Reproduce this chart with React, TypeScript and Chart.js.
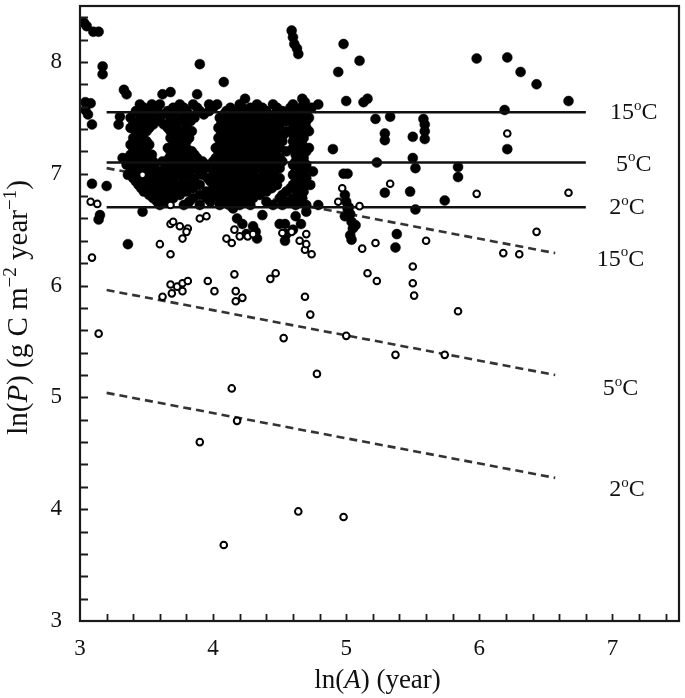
import React, { useEffect, useRef } from 'react';
import { Chart, registerables } from 'chart.js';
Chart.register(...registerables);

const FONT = '"Liberation Serif", "Times New Roman", serif';

// Axis ranges and tick labels
const X_MIN = 3, X_MAX = 7.5, Y_MIN = 3, Y_MAX = 8.5;
const xTickValues = [3, 4, 5, 6, 7];
const yTickValues = [3, 4, 5, 6, 7, 8];
const tempLabels = ['15', '5', '2'];

// Reference lines (ln(A), ln(P))
const solidX = [3.2, 6.8];
const solid15 = [7.55, 7.55];
const solid5 = [7.1, 7.1];
const solid2 = [6.7, 6.7];
const dashedX = [3.2, 6.57];
const dashed15 = [7.05, 6.29];
const dashed5 = [5.96, 5.2];
const dashed2 = [5.04, 4.28];

// Label anchors (data units)
const solidLabelX = [7.16, 7.16, 7.11];
const solidLabelY = [7.56, 7.1, 6.71];
const dashedLabelX = [7.06, 7.06, 7.11];
const dashedLabelY = [6.25, 5.09, 4.19];

// Filled circles – scattered points
const filledSparse: [number, number][] = [
  [3.03, 8.35], [3.05, 8.32], [3.1, 8.27], [3.14, 8.27],
  [3.17, 7.96], [3.17, 7.89], [3.9, 7.98], [4.08, 7.82],
  [3.33, 7.75], [3.35, 7.71], [3.62, 7.71], [3.68, 7.73], [3.88, 7.71],
  [3.04, 7.64], [3.08, 7.63], [3.04, 7.57], [3.06, 7.53], [3.09, 7.44],
  [3.3, 7.51], [3.29, 7.44], [3.41, 7.31], [3.44, 7.22], [3.32, 7.14],
  [3.09, 6.91], [3.2, 6.89], [3.15, 6.63], [3.14, 6.59],
  [3.36, 6.37], [3.47, 6.66],
  [4.59, 8.28], [4.6, 8.22], [4.61, 8.16], [4.63, 8.12], [4.64, 8.07],
  [4.98, 8.16], [5.1, 8.01], [4.94, 7.91],
  [4.24, 7.67], [4.67, 7.67], [4.69, 7.64], [4.79, 7.62],
  [5.0, 7.65], [5.13, 7.64], [5.16, 7.67],
  [5.22, 7.49], [5.33, 7.51], [5.58, 7.49], [5.59, 7.44], [5.59, 7.38], [5.59, 7.31],
  [5.29, 7.36], [5.29, 7.3], [5.5, 7.33], [4.9, 7.22],
  [5.23, 7.1], [5.5, 7.14], [5.52, 7.05], [4.98, 7.0], [5.01, 7.0],
  [5.29, 6.83], [5.48, 6.84], [5.74, 6.76], [5.52, 6.68], [5.84, 7.06], [5.84, 6.97],
  [5.38, 6.46], [5.37, 6.34],
  [4.99, 6.81], [5.0, 6.75], [5.01, 6.69], [5.03, 6.64], [5.04, 6.57], [5.05, 6.51],
  [5.03, 6.45], [5.04, 6.41], [5.07, 6.54], [5.02, 6.7], [4.99, 6.62],
  [5.98, 8.03], [6.21, 8.04], [6.31, 7.91], [6.43, 7.8], [6.67, 7.65], [6.19, 7.57], [6.21, 7.22],
  [4.79, 6.72], [4.7, 6.66], [4.75, 7.02], [4.73, 6.9], [4.54, 6.55], [4.54, 6.4],
  [4.15, 6.69], [4.18, 6.6], [4.22, 6.55], [4.25, 6.46], [4.3, 6.53], [4.32, 6.48],
  [4.37, 6.63], [4.5, 6.55], [4.55, 6.46], [4.33, 6.42], [4.62, 6.62], [4.66, 6.55], [4.6, 6.5],
];

// Filled circles – dense cluster, listed row by row: [ln(P), ln(A) values]
const clusterRows: [number, number[]][] = [
  [7.62, [3.45, 3.54, 3.6, 3.75, 3.85, 3.97, 4.03, 4.2, 4.33, 4.45, 4.6, 4.68]],
  [7.59, [3.48, 3.57, 3.7, 3.78, 3.88, 4.0, 4.13, 4.22, 4.28, 4.37, 4.48, 4.58, 4.66, 4.74]],
  [7.56, [3.42, 3.5, 3.58, 3.66, 3.72, 3.8, 3.9, 3.97, 4.1, 4.16, 4.25, 4.31, 4.4, 4.52, 4.62, 4.7]],
  [7.53, [3.45, 3.52, 3.62, 3.7, 3.82, 3.93, 4.08, 4.14, 4.21, 4.27, 4.34, 4.46, 4.55, 4.63, 4.68]],
  [7.5, [3.38, 3.48, 3.55, 3.68, 3.77, 3.86, 4.05, 4.12, 4.18, 4.24, 4.3, 4.36, 4.43, 4.5, 4.6, 4.65, 4.72]],
  [7.47, [3.44, 3.52, 3.6, 3.68, 3.75, 3.83, 4.08, 4.14, 4.19, 4.25, 4.31, 4.38, 4.46, 4.55, 4.61, 4.7]],
  [7.44, [3.4, 3.47, 3.55, 3.63, 3.72, 3.8, 4.06, 4.11, 4.16, 4.21, 4.27, 4.33, 4.4, 4.5, 4.63, 4.68]],
  [7.41, [3.38, 3.45, 3.52, 3.66, 3.72, 3.8, 4.04, 4.11, 4.18, 4.27, 4.34, 4.42, 4.48, 4.6, 4.65, 4.7]],
  [7.38, [3.42, 3.5, 3.68, 3.76, 3.84, 4.08, 4.14, 4.2, 4.24, 4.3, 4.37, 4.45, 4.55, 4.62, 4.66, 4.72]],
  [7.35, [3.45, 3.7, 3.79, 4.06, 4.12, 4.19, 4.26, 4.35, 4.4, 4.47, 4.53, 4.6, 4.66]],
  [7.32, [3.4, 3.47, 3.68, 3.74, 3.82, 4.04, 4.1, 4.17, 4.22, 4.28, 4.33, 4.42, 4.5, 4.63, 4.68]],
  [7.29, [3.43, 3.5, 3.72, 3.8, 4.07, 4.15, 4.21, 4.27, 4.32, 4.38, 4.44, 4.52, 4.6, 4.65]],
  [7.26, [3.38, 3.45, 3.52, 3.7, 3.78, 4.05, 4.1, 4.14, 4.19, 4.25, 4.3, 4.35, 4.4, 4.47, 4.62, 4.67]],
  [7.23, [3.42, 3.5, 3.66, 3.72, 3.8, 4.02, 4.1, 4.16, 4.24, 4.3, 4.36, 4.42, 4.5, 4.6, 4.65, 4.72]],
  [7.2, [3.4, 3.48, 3.68, 3.74, 3.84, 4.04, 4.08, 4.12, 4.17, 4.22, 4.27, 4.33, 4.38, 4.45, 4.55, 4.63, 4.7]],
  [7.17, [3.38, 3.46, 3.54, 3.7, 3.78, 3.86, 4.05, 4.1, 4.14, 4.19, 4.24, 4.28, 4.34, 4.4, 4.47, 4.62, 4.66]],
  [7.14, [3.36, 3.44, 3.52, 3.67, 3.74, 3.82, 3.88, 4.02, 4.07, 4.12, 4.16, 4.21, 4.25, 4.3, 4.36, 4.43, 4.5, 4.64, 4.68]],
  [7.11, [3.4, 3.47, 3.55, 3.62, 3.7, 3.78, 3.85, 3.92, 4.0, 4.05, 4.1, 4.15, 4.2, 4.26, 4.32, 4.38, 4.45, 4.52, 4.62, 4.67]],
  [7.08, [3.35, 3.42, 3.5, 3.56, 3.66, 3.74, 3.8, 3.88, 3.95, 4.02, 4.08, 4.13, 4.18, 4.22, 4.28, 4.35, 4.4, 4.48, 4.6, 4.65, 4.7]],
  [7.05, [3.4, 3.48, 3.56, 3.64, 3.71, 3.78, 3.86, 3.94, 4.04, 4.1, 4.15, 4.2, 4.26, 4.33, 4.42, 4.5, 4.64, 4.7]],
  [7.02, [3.38, 3.46, 3.54, 3.6, 3.68, 3.74, 3.82, 3.9, 4.0, 4.06, 4.12, 4.17, 4.23, 4.3, 4.38, 4.45, 4.62, 4.68]],
  [6.99, [3.36, 3.44, 3.52, 3.6, 3.66, 3.74, 3.82, 3.92, 4.02, 4.07, 4.13, 4.18, 4.23, 4.3, 4.38, 4.46, 4.6, 4.66]],
  [6.96, [3.4, 3.5, 3.57, 3.63, 3.7, 3.78, 3.86, 3.96, 4.04, 4.1, 4.16, 4.2, 4.26, 4.34, 4.42, 4.5, 4.63, 4.7]],
  [6.93, [3.42, 3.48, 3.56, 3.64, 3.7, 3.78, 3.86, 3.98, 4.05, 4.11, 4.16, 4.21, 4.27, 4.35, 4.44, 4.62, 4.68]],
  [6.9, [3.44, 3.52, 3.6, 3.66, 3.74, 3.82, 3.9, 4.02, 4.08, 4.14, 4.18, 4.24, 4.3, 4.4, 4.48, 4.6, 4.66]],
  [6.87, [3.46, 3.54, 3.62, 3.7, 3.77, 3.85, 4.0, 4.07, 4.15, 4.21, 4.28, 4.36, 4.44, 4.58, 4.65]],
  [6.84, [3.48, 3.56, 3.64, 3.72, 3.8, 3.95, 4.05, 4.12, 4.18, 4.25, 4.32, 4.4, 4.55, 4.63, 4.68]],
  [6.81, [3.52, 3.6, 3.67, 3.75, 3.9, 4.0, 4.08, 4.14, 4.2, 4.27, 4.35, 4.52, 4.64]],
  [6.78, [3.55, 3.62, 3.7, 3.85, 3.95, 4.04, 4.1, 4.16, 4.22, 4.3, 4.5, 4.6, 4.67]],
  [6.75, [3.58, 3.66, 3.82, 3.98, 4.08, 4.15, 4.24, 4.4, 4.56, 4.66]],
  [6.72, [3.6, 3.78, 3.9, 4.05, 4.12, 4.2, 4.28, 4.45, 4.52, 4.62, 4.7]],
];

// Open circles
const openPoints: [number, number][] = [
  [3.08, 6.75], [3.13, 6.73], [3.09, 6.25], [3.14, 5.57],
  [3.6, 6.37], [3.68, 6.28], [3.68, 6.55], [3.75, 6.53], [3.81, 6.51], [3.77, 6.42],
  [3.68, 6.72], [3.9, 6.6], [3.95, 6.62], [3.7, 6.57], [3.8, 6.48], [3.47, 6.99],
  [3.62, 5.9], [3.68, 6.01], [3.69, 5.93], [3.73, 5.99], [3.77, 6.02], [3.77, 5.95], [3.81, 6.04],
  [3.96, 6.04], [4.01, 5.95],
  [4.1, 6.42], [4.14, 6.38], [4.16, 6.5], [4.2, 6.44], [4.26, 6.44], [4.3, 6.46],
  [4.16, 6.1], [4.17, 5.95], [4.17, 5.86], [4.22, 5.89], [4.43, 6.06], [4.47, 6.11],
  [4.52, 6.47], [4.59, 6.48], [4.65, 6.4], [4.7, 6.46], [4.69, 6.32], [4.74, 6.28], [4.7, 6.37],
  [4.69, 5.9], [4.73, 5.74], [4.53, 5.53], [4.78, 5.21], [4.14, 5.08], [4.18, 4.79], [3.9, 4.6],
  [4.08, 3.68], [4.64, 3.98], [4.98, 3.93],
  [5.0, 5.55], [5.37, 5.38], [5.74, 5.38], [5.84, 5.77],
  [5.5, 6.17], [5.5, 6.02], [5.51, 5.91], [5.16, 6.11], [5.23, 6.04], [5.12, 6.33], [5.22, 6.38], [5.6, 6.4],
  [4.97, 6.87], [4.94, 6.75], [5.1, 6.71], [5.33, 6.91],
  [5.98, 6.82], [6.67, 6.83], [6.21, 7.36], [6.43, 6.48], [6.18, 6.29], [6.3, 6.28],
];

type Piece = { t: string; it?: boolean; sup?: boolean };

function drawPieces(ctx: CanvasRenderingContext2D, pieces: Piece[], cx: number, by: number, size: number) {
  const fontFor = (p: Piece) => `${p.it ? 'italic ' : ''}${p.sup ? Math.round(size * 0.64) : size}px ${FONT}`;
  let total = 0;
  const widths = pieces.map((p) => {
    ctx.font = fontFor(p);
    const w = ctx.measureText(p.t).width;
    total += w;
    return w;
  });
  let x = cx - total / 2;
  ctx.textAlign = 'left';
  ctx.textBaseline = 'alphabetic';
  pieces.forEach((p, i) => {
    ctx.font = fontFor(p);
    ctx.fillText(p.t, x, by - (p.sup ? size * 0.38 : 0));
    x += widths[i];
  });
}

const decorPlugin = {
  id: 'decor',
  afterDraw(chart: any) {
    const { ctx, chartArea: a } = chart;
    const xs = chart.scales.x;
    const ys = chart.scales.y;
    ctx.save();
    ctx.strokeStyle = '#1a1a1a';
    ctx.lineWidth = 1.8;
    ctx.beginPath();
    for (let i = 1; i * 0.2 + X_MIN < X_MAX - 0.01; i++) {
      const px = Math.round(xs.getPixelForValue(X_MIN + i * 0.2)) + 0.5;
      ctx.moveTo(px, a.bottom);
      ctx.lineTo(px, a.bottom - 7);
    }
    for (let i = 1; i * 0.2 + Y_MIN < Y_MAX - 0.01; i++) {
      const py = Math.round(ys.getPixelForValue(Y_MIN + i * 0.2)) + 0.5;
      ctx.moveTo(a.left, py);
      ctx.lineTo(a.left + 8, py);
    }
    ctx.stroke();
    ctx.lineWidth = 2.2;
    ctx.strokeRect(a.left, a.top, a.right - a.left, a.bottom - a.top);

    ctx.fillStyle = '#111';
    // x title
    drawPieces(ctx, [{ t: 'ln(' }, { t: 'A', it: true }, { t: ') (year)' }], (a.left + a.right) / 2 - 2, 688, 27);
    // y title
    ctx.save();
    ctx.translate(27, (a.top + a.bottom) / 2 - 6);
    ctx.rotate(-Math.PI / 2);
    drawPieces(ctx, [
      { t: 'ln(' }, { t: 'P', it: true }, { t: ') (g C m' }, { t: '\u22122', sup: true },
      { t: ' year' }, { t: '\u22121', sup: true }, { t: ')' },
    ], 0, 0, 29);
    ctx.restore();
    // line labels
    tempLabels.forEach((t, i) => {
      const pieces = [{ t }, { t: 'o', sup: true }, { t: 'C' }];
      drawPieces(ctx, pieces, xs.getPixelForValue(solidLabelX[i]), ys.getPixelForValue(solidLabelY[i]) + 8, 24);
      drawPieces(ctx, pieces, xs.getPixelForValue(dashedLabelX[i]), ys.getPixelForValue(dashedLabelY[i]) + 8, 24);
    });
    ctx.restore();
  },
};

export default function App() {
  const ref = useRef<HTMLCanvasElement>(null);
  useEffect(() => {
    document.body.style.margin = '0';
    const toPts = (xs: number[], ys: number[]) => xs.map((x, i) => ({ x, y: ys[i] }));
    const filled = [
      ...filledSparse.map(([x, y]) => ({ x, y })),
      ...clusterRows.flatMap(([y, xs]) => xs.map((x) => ({ x, y }))),
    ];
    const solidStyle = { showLine: true, borderColor: '#111', borderWidth: 2.6, pointRadius: 0, fill: false };
    const dashStyle = { showLine: true, borderColor: '#333', borderWidth: 2.6, borderDash: [8, 5], pointRadius: 0, fill: false };
    const tickFont = { family: FONT, size: 23 };
    const chart = new Chart(ref.current as HTMLCanvasElement, {
      type: 'scatter',
      data: {
        datasets: [
          {
            label: 'open', data: openPoints.map(([x, y]) => ({ x, y })),
            pointRadius: 3.3, pointBackgroundColor: '#fff', pointBorderColor: '#000', pointBorderWidth: 2,
          } as any,
          { label: 's15', data: toPts(solidX, solid15), ...solidStyle },
          { label: 's5', data: toPts(solidX, solid5), ...solidStyle },
          { label: 's2', data: toPts(solidX, solid2), ...solidStyle },
          {
            label: 'filled', data: filled,
            pointRadius: 5, pointBackgroundColor: '#000', pointBorderColor: 'rgba(0,0,0,0.45)', pointBorderWidth: 1,
          } as any,
          { label: 'd15', data: toPts(dashedX, dashed15), ...dashStyle },
          { label: 'd5', data: toPts(dashedX, dashed5), ...dashStyle },
          { label: 'd2', data: toPts(dashedX, dashed2), ...dashStyle },
        ],
      },
      options: {
        animation: false,
        responsive: false,
        events: [],
        layout: { padding: { top: 4, right: 6, left: 0, bottom: 0 } },
        plugins: { legend: { display: false }, tooltip: { enabled: false } },
        scales: {
          x: {
            type: 'linear', min: X_MIN, max: X_MAX,
            grid: { display: false, drawTicks: false }, border: { display: false },
            ticks: {
              stepSize: 1, includeBounds: false, autoSkip: false, maxRotation: 0, padding: 14,
              font: tickFont, color: '#111',
              callback: (v: any) => (xTickValues.includes(Number(v)) ? String(v) : ''),
            },
            afterFit: (s: any) => { s.height = 77; s.paddingLeft = 0; s.paddingRight = 0; },
          },
          y: {
            type: 'linear', min: Y_MIN, max: Y_MAX,
            grid: { display: false, drawTicks: false }, border: { display: false },
            ticks: {
              stepSize: 1, includeBounds: false, autoSkip: false, padding: 18,
              font: tickFont, color: '#111',
              callback: (v: any) => (yTickValues.includes(Number(v)) ? String(v) : ''),
            },
            afterFit: (s: any) => { s.width = 80; s.paddingTop = 0; s.paddingBottom = 0; },
          },
        },
      } as any,
      plugins: [decorPlugin],
    });
    return () => chart.destroy();
  }, []);
  return (
    <div style={{ width: 685, height: 698 }}>
      <canvas ref={ref} width={685} height={698} style={{ display: 'block' }} />
    </div>
  );
}
